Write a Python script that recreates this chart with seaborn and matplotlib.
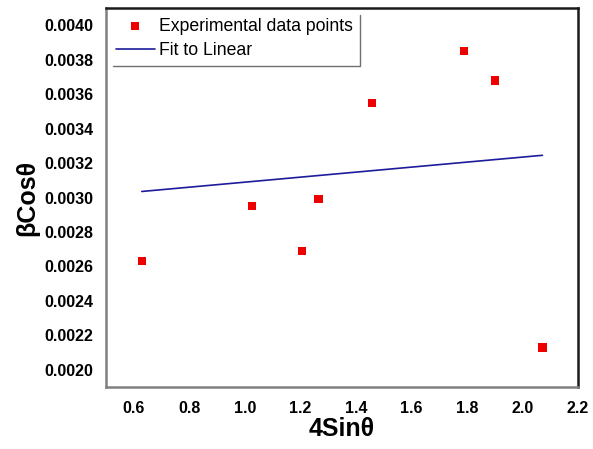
import numpy as np
import pandas as pd
import matplotlib
matplotlib.use('Agg')
import matplotlib.pyplot as plt
import seaborn as sns

sns.set_style('white')
plt.rcParams['font.family'] = ['Liberation Sans', 'DejaVu Sans']
plt.rcParams['text.color'] = 'black'
plt.rcParams['axes.labelcolor'] = 'black'
plt.rcParams['xtick.color'] = 'black'
plt.rcParams['ytick.color'] = 'black'

# data
sin_x = [0.629, 1.025, 1.207, 1.265, 1.458, 1.789, 1.901, 2.072]
beta_cos = [0.00263, 0.00295, 0.00269, 0.00299, 0.00355, 0.00385, 0.00368, 0.00213]
fit_x = [0.629, 2.072]
fit_y = [0.003035, 0.003245]
x_ticks = [0.6, 0.8, 1.0, 1.2, 1.4, 1.6, 1.8, 2.0, 2.2]
y_ticks = [0.0020, 0.0022, 0.0024, 0.0026, 0.0028, 0.0030, 0.0032, 0.0034, 0.0036, 0.0038, 0.0040]

df = pd.DataFrame({'x': sin_x, 'y': beta_cos})
fit_df = pd.DataFrame({'x': fit_x, 'y': fit_y})

fig = plt.figure(figsize=(5.93, 4.49), dpi=100)
ax = fig.add_axes([106 / 593, 1 - 387 / 449, (578 - 106) / 593, (387 - 8) / 449])

sns.scatterplot(data=df, x='x', y='y', ax=ax, marker='s', s=36, color='#ee0000',
                edgecolor='none', label='Experimental data points', zorder=3)
sns.lineplot(data=fit_df, x='x', y='y', ax=ax, color='#1c1c9c', linewidth=1.2,
             label='Fit to Linear')

ax.set_xlim(0.5, 2.2)
ax.set_ylim(0.0019, 0.0041)
ax.set_xticks(x_ticks)
ax.set_yticks(y_ticks)
ax.set_xticklabels([f'{v:.1f}' for v in x_ticks], fontsize=11.5, fontweight='bold')
ax.set_yticklabels([f'{v:.4f}' for v in y_ticks], fontsize=11.5, fontweight='bold')
ax.tick_params(axis='y', length=0, pad=9)
ax.tick_params(axis='x', length=0, pad=10)

ax.set_xlabel('4Sinθ', fontsize=18, fontweight='bold', labelpad=1)
ax.set_ylabel('βCosθ', fontsize=18, fontweight='bold', labelpad=4)

for side in ['left', 'bottom']:
    ax.spines[side].set_color('#808080')
    ax.spines[side].set_linewidth(1.8)
for side in ['top', 'right']:
    ax.spines[side].set_color('#1a1a1a')
    ax.spines[side].set_linewidth(1.8)

leg = ax.legend(loc='upper left', frameon=False, fontsize=12.7, handlelength=2.2,
                handletextpad=0.25, borderaxespad=0.15, labelspacing=0.4,
                bbox_to_anchor=(0.0, 1.0))

# legend box with only right and bottom edges
fig.canvas.draw()
bb = leg.get_window_extent().transformed(ax.transAxes.inverted())
ax.plot([0.015, bb.x1, bb.x1], [bb.y0, bb.y0, 0.982], transform=ax.transAxes,
        color='#707070', linewidth=1.0, clip_on=False)

fig.savefig('out.png', dpi=100)
